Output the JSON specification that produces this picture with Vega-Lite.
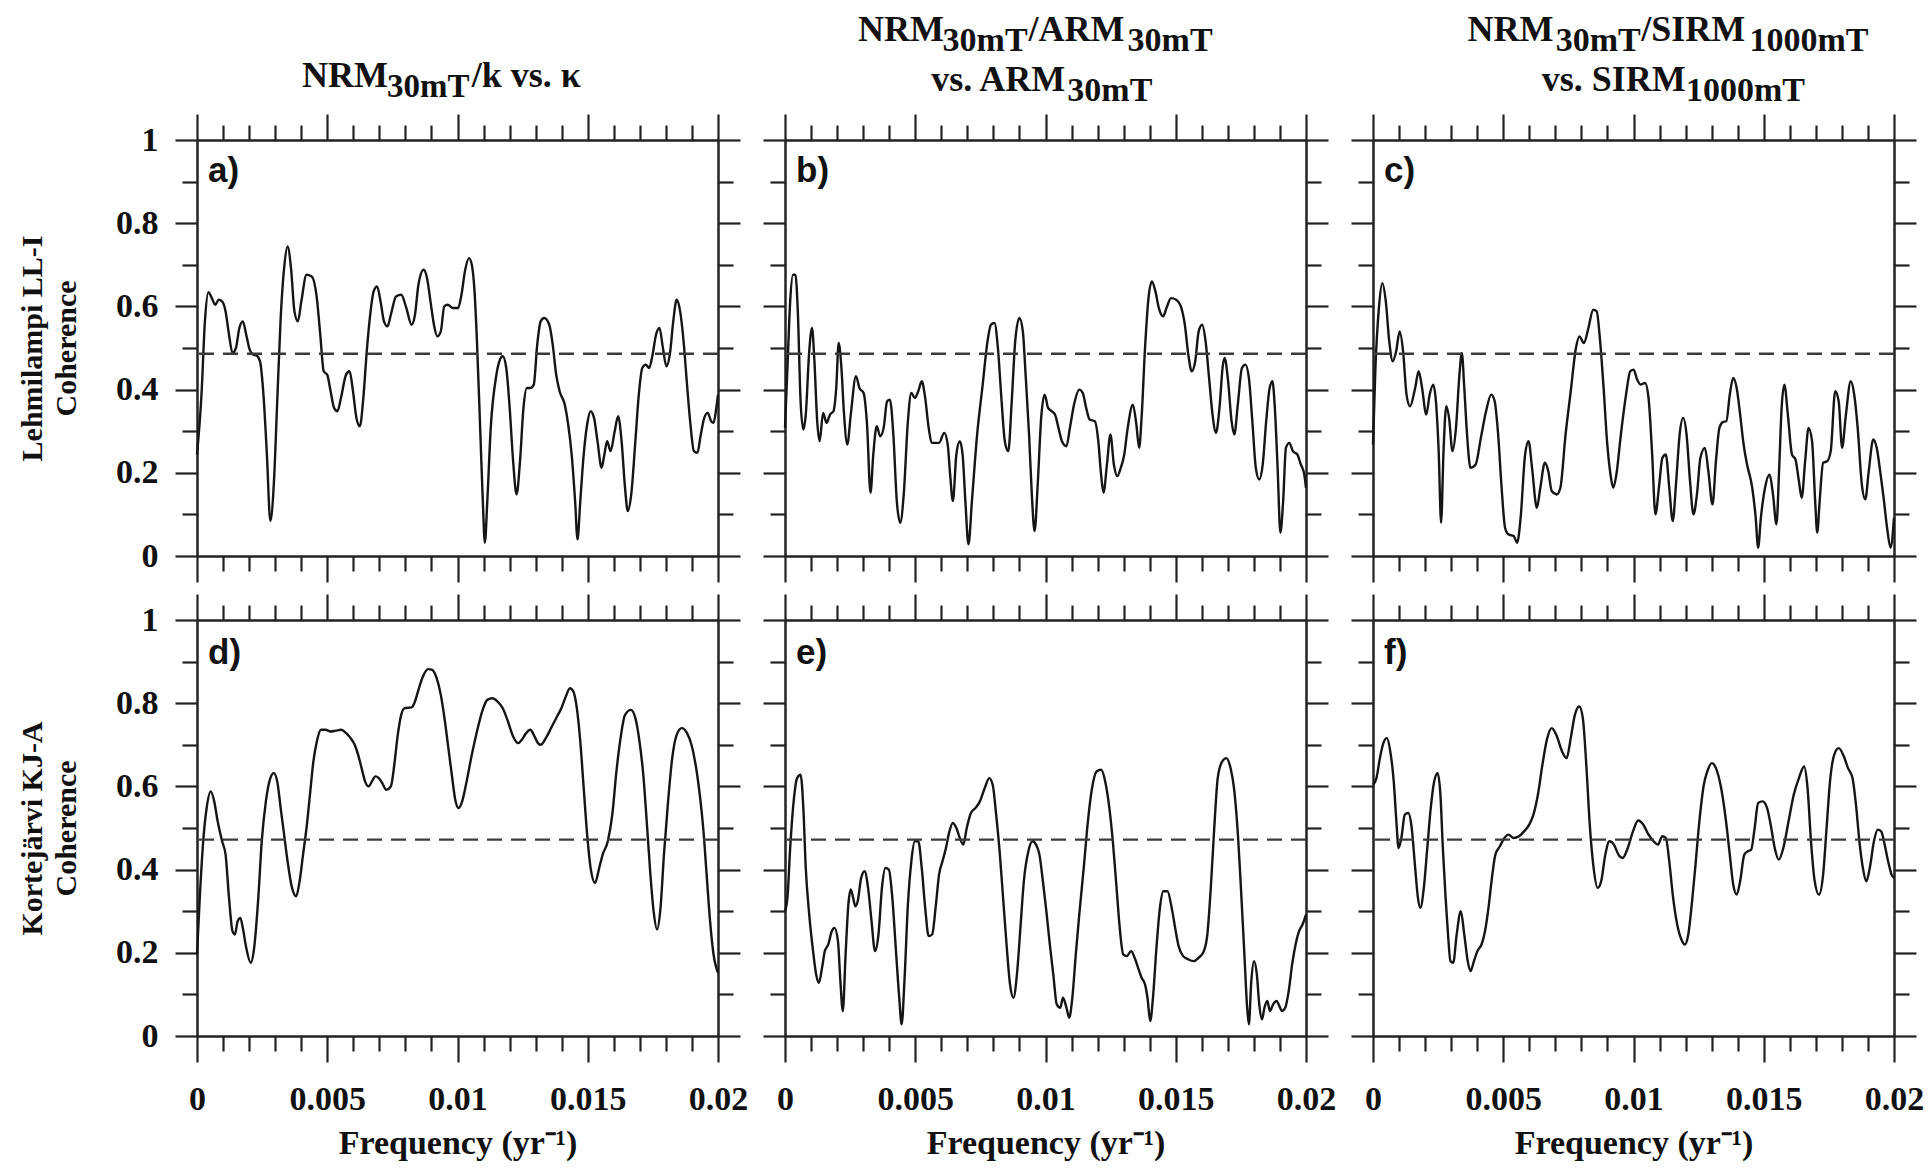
{
"$schema": "https://vega.github.io/schema/vega-lite/v6.json",
"padding": {"left": 17, "top": 11, "right": 5, "bottom": 5},
"background": "white",
"config": {
  "view": {"stroke": null},
  "font": "Liberation Serif",
  "axis": {"domainColor": "#222", "domainWidth": 2.5, "tickColor": "#222", "tickWidth": 2.2, "labelFont": "Liberation Serif", "labelFontWeight": "bold", "labelFontSize": 34, "labelColor": "#111", "titleFont": "Liberation Serif", "titleFontWeight": "bold", "titleFontSize": 32, "titleColor": "#111", "grid": false, "labelFlush": false, "labelOverlap": false}
},
"datasets": {
"lev": [{"p":"a","c":0.486},{"p":"b","c":0.486},{"p":"c","c":0.486},{"p":"d","c":0.472},{"p":"e","c":0.472},{"p":"f","c":0.472}],
"lab": [{"p":"a","t":"a)"},{"p":"b","t":"b)"},{"p":"c","t":"c)"},{"p":"d","t":"d)"},{"p":"e","t":"e)"},{"p":"f","t":"f)"}],
"a": [{"f":0,"c":0.244},{"f":0.000172,"c":0.388},{"f":0.000304,"c":0.564},{"f":0.000436,"c":0.634},{"f":0.000568,"c":0.62},{"f":0.000701,"c":0.604},{"f":0.000833,"c":0.616},{"f":0.000965,"c":0.612},{"f":0.001097,"c":0.588},{"f":0.001229,"c":0.532},{"f":0.001362,"c":0.488},{"f":0.001494,"c":0.5},{"f":0.001626,"c":0.548},{"f":0.001758,"c":0.564},{"f":0.00189,"c":0.532},{"f":0.002022,"c":0.496},{"f":0.002155,"c":0.484},{"f":0.002287,"c":0.482},{"f":0.002419,"c":0.468},{"f":0.002551,"c":0.388},{"f":0.002683,"c":0.244},{"f":0.002816,"c":0.084},{"f":0.002948,"c":0.172},{"f":0.00308,"c":0.372},{"f":0.003212,"c":0.572},{"f":0.003344,"c":0.692},{"f":0.003477,"c":0.744},{"f":0.003609,"c":0.692},{"f":0.003741,"c":0.588},{"f":0.003873,"c":0.564},{"f":0.004005,"c":0.612},{"f":0.004204,"c":0.676},{"f":0.004402,"c":0.672},{"f":0.0046,"c":0.62},{"f":0.004732,"c":0.532},{"f":0.004865,"c":0.444},{"f":0.004997,"c":0.436},{"f":0.005129,"c":0.396},{"f":0.005261,"c":0.356},{"f":0.005393,"c":0.348},{"f":0.005526,"c":0.38},{"f":0.005724,"c":0.436},{"f":0.005856,"c":0.444},{"f":0.005988,"c":0.396},{"f":0.00612,"c":0.332},{"f":0.006253,"c":0.312},{"f":0.006385,"c":0.38},{"f":0.006517,"c":0.492},{"f":0.006649,"c":0.58},{"f":0.006781,"c":0.636},{"f":0.006914,"c":0.648},{"f":0.007046,"c":0.612},{"f":0.007178,"c":0.564},{"f":0.00731,"c":0.552},{"f":0.007442,"c":0.58},{"f":0.007641,"c":0.624},{"f":0.007839,"c":0.628},{"f":0.008037,"c":0.596},{"f":0.008235,"c":0.556},{"f":0.008368,"c":0.58},{"f":0.0085,"c":0.652},{"f":0.008698,"c":0.688},{"f":0.00883,"c":0.668},{"f":0.008963,"c":0.612},{"f":0.009095,"c":0.556},{"f":0.009227,"c":0.528},{"f":0.009359,"c":0.54},{"f":0.009491,"c":0.6},{"f":0.009624,"c":0.604},{"f":0.009822,"c":0.596},{"f":0.01002,"c":0.596},{"f":0.010152,"c":0.628},{"f":0.010284,"c":0.684},{"f":0.010443,"c":0.716},{"f":0.010549,"c":0.7},{"f":0.010654,"c":0.636},{"f":0.010747,"c":0.516},{"f":0.010879,"c":0.292},{"f":0.010972,"c":0.132},{"f":0.011051,"c":0.032},{"f":0.011144,"c":0.132},{"f":0.011276,"c":0.308},{"f":0.011474,"c":0.428},{"f":0.011606,"c":0.468},{"f":0.011738,"c":0.48},{"f":0.011871,"c":0.452},{"f":0.012003,"c":0.356},{"f":0.012135,"c":0.228},{"f":0.012267,"c":0.148},{"f":0.0124,"c":0.228},{"f":0.012532,"c":0.356},{"f":0.012664,"c":0.404},{"f":0.012796,"c":0.404},{"f":0.012928,"c":0.412},{"f":0.01306,"c":0.508},{"f":0.013193,"c":0.564},{"f":0.013325,"c":0.572},{"f":0.013523,"c":0.556},{"f":0.013655,"c":0.508},{"f":0.013788,"c":0.436},{"f":0.01392,"c":0.396},{"f":0.014118,"c":0.364},{"f":0.01425,"c":0.316},{"f":0.014382,"c":0.244},{"f":0.014515,"c":0.132},{"f":0.014607,"c":0.04},{"f":0.014713,"c":0.132},{"f":0.014845,"c":0.244},{"f":0.014977,"c":0.316},{"f":0.015109,"c":0.348},{"f":0.015241,"c":0.332},{"f":0.015374,"c":0.276},{"f":0.015532,"c":0.212},{"f":0.015638,"c":0.244},{"f":0.015744,"c":0.276},{"f":0.015876,"c":0.252},{"f":0.016035,"c":0.3},{"f":0.016167,"c":0.336},{"f":0.016299,"c":0.276},{"f":0.016431,"c":0.164},{"f":0.016537,"c":0.108},{"f":0.016669,"c":0.148},{"f":0.016828,"c":0.276},{"f":0.01696,"c":0.388},{"f":0.017093,"c":0.452},{"f":0.017225,"c":0.46},{"f":0.017357,"c":0.452},{"f":0.017489,"c":0.484},{"f":0.017621,"c":0.532},{"f":0.017754,"c":0.548},{"f":0.017886,"c":0.5},{"f":0.018018,"c":0.456},{"f":0.01815,"c":0.484},{"f":0.018282,"c":0.564},{"f":0.018415,"c":0.616},{"f":0.018547,"c":0.588},{"f":0.018679,"c":0.516},{"f":0.018811,"c":0.412},{"f":0.018943,"c":0.316},{"f":0.019076,"c":0.252},{"f":0.019208,"c":0.248},{"f":0.01934,"c":0.292},{"f":0.019472,"c":0.332},{"f":0.019604,"c":0.344},{"f":0.019737,"c":0.324},{"f":0.019829,"c":0.32},{"f":0.019935,"c":0.356},{"f":0.02,"c":0.388}],
"b": [{"f":0,"c":0.308},{"f":0.000093,"c":0.452},{"f":0.000199,"c":0.612},{"f":0.000306,"c":0.676},{"f":0.000399,"c":0.676},{"f":0.000492,"c":0.588},{"f":0.000598,"c":0.372},{"f":0.000704,"c":0.304},{"f":0.000797,"c":0.34},{"f":0.00093,"c":0.492},{"f":0.001037,"c":0.548},{"f":0.00113,"c":0.468},{"f":0.001236,"c":0.324},{"f":0.001329,"c":0.276},{"f":0.001462,"c":0.344},{"f":0.001595,"c":0.32},{"f":0.001728,"c":0.34},{"f":0.00186,"c":0.348},{"f":0.001967,"c":0.404},{"f":0.00206,"c":0.512},{"f":0.002166,"c":0.452},{"f":0.002259,"c":0.348},{"f":0.002392,"c":0.268},{"f":0.002525,"c":0.34},{"f":0.002724,"c":0.432},{"f":0.002857,"c":0.404},{"f":0.003017,"c":0.392},{"f":0.003149,"c":0.316},{"f":0.003282,"c":0.152},{"f":0.003389,"c":0.244},{"f":0.003522,"c":0.312},{"f":0.003654,"c":0.288},{"f":0.003787,"c":0.308},{"f":0.00392,"c":0.372},{"f":0.004027,"c":0.376},{"f":0.004159,"c":0.292},{"f":0.004292,"c":0.132},{"f":0.004425,"c":0.08},{"f":0.004558,"c":0.148},{"f":0.004718,"c":0.324},{"f":0.00485,"c":0.392},{"f":0.004983,"c":0.38},{"f":0.005116,"c":0.396},{"f":0.005249,"c":0.42},{"f":0.005382,"c":0.38},{"f":0.005515,"c":0.308},{"f":0.005648,"c":0.272},{"f":0.005914,"c":0.272},{"f":0.006113,"c":0.296},{"f":0.006246,"c":0.268},{"f":0.006339,"c":0.196},{"f":0.006445,"c":0.132},{"f":0.006578,"c":0.244},{"f":0.006711,"c":0.276},{"f":0.006817,"c":0.244},{"f":0.006924,"c":0.132},{"f":0.007043,"c":0.028},{"f":0.007176,"c":0.132},{"f":0.007375,"c":0.292},{"f":0.007575,"c":0.404},{"f":0.007774,"c":0.516},{"f":0.007907,"c":0.556},{"f":0.00804,"c":0.56},{"f":0.008173,"c":0.5},{"f":0.008306,"c":0.38},{"f":0.008439,"c":0.276},{"f":0.008571,"c":0.252},{"f":0.008704,"c":0.372},{"f":0.008837,"c":0.516},{"f":0.008997,"c":0.572},{"f":0.00913,"c":0.54},{"f":0.009236,"c":0.436},{"f":0.009369,"c":0.292},{"f":0.009475,"c":0.148},{"f":0.009581,"c":0.06},{"f":0.009701,"c":0.172},{"f":0.009834,"c":0.332},{"f":0.009967,"c":0.388},{"f":0.0101,"c":0.356},{"f":0.010233,"c":0.348},{"f":0.010365,"c":0.34},{"f":0.010498,"c":0.308},{"f":0.010631,"c":0.276},{"f":0.010804,"c":0.264},{"f":0.010937,"c":0.308},{"f":0.011096,"c":0.364},{"f":0.011296,"c":0.4},{"f":0.011429,"c":0.392},{"f":0.011561,"c":0.356},{"f":0.011694,"c":0.328},{"f":0.011894,"c":0.324},{"f":0.012027,"c":0.276},{"f":0.012133,"c":0.196},{"f":0.012226,"c":0.152},{"f":0.012359,"c":0.22},{"f":0.012492,"c":0.292},{"f":0.012625,"c":0.22},{"f":0.012757,"c":0.192},{"f":0.01289,"c":0.212},{"f":0.013023,"c":0.244},{"f":0.013156,"c":0.308},{"f":0.013355,"c":0.364},{"f":0.013488,"c":0.316},{"f":0.013595,"c":0.26},{"f":0.013688,"c":0.332},{"f":0.013821,"c":0.5},{"f":0.013953,"c":0.62},{"f":0.014086,"c":0.66},{"f":0.014219,"c":0.636},{"f":0.014352,"c":0.596},{"f":0.014512,"c":0.576},{"f":0.014644,"c":0.596},{"f":0.014817,"c":0.62},{"f":0.015017,"c":0.616},{"f":0.015216,"c":0.596},{"f":0.015349,"c":0.556},{"f":0.015482,"c":0.484},{"f":0.015615,"c":0.444},{"f":0.015747,"c":0.468},{"f":0.01588,"c":0.54},{"f":0.016013,"c":0.556},{"f":0.016146,"c":0.516},{"f":0.016279,"c":0.428},{"f":0.016412,"c":0.34},{"f":0.016545,"c":0.296},{"f":0.016678,"c":0.356},{"f":0.016811,"c":0.46},{"f":0.016877,"c":0.476},{"f":0.01701,"c":0.42},{"f":0.017143,"c":0.324},{"f":0.017249,"c":0.292},{"f":0.017382,"c":0.364},{"f":0.017541,"c":0.452},{"f":0.017674,"c":0.46},{"f":0.017807,"c":0.428},{"f":0.01794,"c":0.324},{"f":0.018073,"c":0.212},{"f":0.018206,"c":0.184},{"f":0.018339,"c":0.22},{"f":0.018472,"c":0.324},{"f":0.018605,"c":0.404},{"f":0.018711,"c":0.42},{"f":0.018804,"c":0.356},{"f":0.01891,"c":0.212},{"f":0.019017,"c":0.056},{"f":0.019123,"c":0.132},{"f":0.019229,"c":0.26},{"f":0.019362,"c":0.272},{"f":0.019495,"c":0.252},{"f":0.019668,"c":0.244},{"f":0.019801,"c":0.22},{"f":0.019934,"c":0.196},{"f":0.02,"c":0.164}],
"c": [{"f":0,"c":0.268},{"f":0.000093,"c":0.452},{"f":0.000226,"c":0.596},{"f":0.000358,"c":0.656},{"f":0.000491,"c":0.612},{"f":0.000624,"c":0.516},{"f":0.000756,"c":0.468},{"f":0.000889,"c":0.492},{"f":0.001022,"c":0.54},{"f":0.001155,"c":0.492},{"f":0.001287,"c":0.388},{"f":0.00142,"c":0.36},{"f":0.001619,"c":0.404},{"f":0.001752,"c":0.444},{"f":0.001884,"c":0.404},{"f":0.002044,"c":0.34},{"f":0.002176,"c":0.388},{"f":0.002309,"c":0.412},{"f":0.002415,"c":0.372},{"f":0.002521,"c":0.252},{"f":0.002614,"c":0.08},{"f":0.002707,"c":0.252},{"f":0.002813,"c":0.36},{"f":0.00292,"c":0.332},{"f":0.003052,"c":0.252},{"f":0.003185,"c":0.308},{"f":0.003318,"c":0.436},{"f":0.003411,"c":0.488},{"f":0.003504,"c":0.404},{"f":0.00361,"c":0.292},{"f":0.003742,"c":0.212},{"f":0.003941,"c":0.22},{"f":0.004141,"c":0.284},{"f":0.00434,"c":0.348},{"f":0.004539,"c":0.388},{"f":0.004671,"c":0.372},{"f":0.004804,"c":0.292},{"f":0.004937,"c":0.164},{"f":0.00507,"c":0.068},{"f":0.005202,"c":0.052},{"f":0.005401,"c":0.048},{"f":0.005534,"c":0.032},{"f":0.005667,"c":0.092},{"f":0.005839,"c":0.244},{"f":0.005972,"c":0.276},{"f":0.006105,"c":0.212},{"f":0.00629,"c":0.116},{"f":0.006423,"c":0.164},{"f":0.006596,"c":0.224},{"f":0.006728,"c":0.204},{"f":0.006861,"c":0.156},{"f":0.00706,"c":0.148},{"f":0.007193,"c":0.164},{"f":0.007392,"c":0.292},{"f":0.007591,"c":0.396},{"f":0.00779,"c":0.5},{"f":0.007923,"c":0.528},{"f":0.008095,"c":0.512},{"f":0.008255,"c":0.544},{"f":0.008454,"c":0.592},{"f":0.008586,"c":0.588},{"f":0.008719,"c":0.516},{"f":0.008852,"c":0.404},{"f":0.008984,"c":0.276},{"f":0.009117,"c":0.196},{"f":0.009223,"c":0.164},{"f":0.009343,"c":0.196},{"f":0.009515,"c":0.292},{"f":0.009714,"c":0.388},{"f":0.009874,"c":0.444},{"f":0.010006,"c":0.448},{"f":0.010139,"c":0.424},{"f":0.010272,"c":0.412},{"f":0.010444,"c":0.416},{"f":0.010577,"c":0.38},{"f":0.01071,"c":0.252},{"f":0.010842,"c":0.1},{"f":0.010975,"c":0.164},{"f":0.011108,"c":0.236},{"f":0.011241,"c":0.244},{"f":0.011373,"c":0.164},{"f":0.011506,"c":0.084},{"f":0.011639,"c":0.18},{"f":0.011771,"c":0.292},{"f":0.011904,"c":0.332},{"f":0.012037,"c":0.292},{"f":0.01217,"c":0.18},{"f":0.012302,"c":0.1},{"f":0.012435,"c":0.148},{"f":0.012568,"c":0.236},{"f":0.01274,"c":0.26},{"f":0.012873,"c":0.204},{"f":0.013032,"c":0.124},{"f":0.013165,"c":0.228},{"f":0.013298,"c":0.308},{"f":0.01343,"c":0.322},{"f":0.013563,"c":0.324},{"f":0.013696,"c":0.388},{"f":0.013828,"c":0.428},{"f":0.013961,"c":0.404},{"f":0.014094,"c":0.34},{"f":0.014227,"c":0.268},{"f":0.014359,"c":0.22},{"f":0.014558,"c":0.164},{"f":0.014691,"c":0.092},{"f":0.014784,"c":0.02},{"f":0.01489,"c":0.092},{"f":0.015049,"c":0.164},{"f":0.015222,"c":0.196},{"f":0.015355,"c":0.148},{"f":0.015487,"c":0.076},{"f":0.015593,"c":0.212},{"f":0.015686,"c":0.356},{"f":0.015792,"c":0.412},{"f":0.015925,"c":0.34},{"f":0.016084,"c":0.244},{"f":0.016217,"c":0.232},{"f":0.01635,"c":0.18},{"f":0.016456,"c":0.14},{"f":0.016589,"c":0.228},{"f":0.016721,"c":0.308},{"f":0.016854,"c":0.276},{"f":0.016974,"c":0.132},{"f":0.017053,"c":0.056},{"f":0.017146,"c":0.132},{"f":0.017279,"c":0.224},{"f":0.017438,"c":0.228},{"f":0.017571,"c":0.252},{"f":0.017743,"c":0.396},{"f":0.017876,"c":0.372},{"f":0.018009,"c":0.26},{"f":0.018141,"c":0.332},{"f":0.018341,"c":0.42},{"f":0.018473,"c":0.388},{"f":0.018606,"c":0.308},{"f":0.018765,"c":0.172},{"f":0.018898,"c":0.136},{"f":0.019031,"c":0.204},{"f":0.019203,"c":0.28},{"f":0.019336,"c":0.26},{"f":0.019469,"c":0.204},{"f":0.019601,"c":0.14},{"f":0.019734,"c":0.068},{"f":0.019867,"c":0.02},{"f":0.02,"c":0.092}],
"d": [{"f":0,"c":0.196},{"f":0.000106,"c":0.332},{"f":0.000238,"c":0.468},{"f":0.00037,"c":0.548},{"f":0.000529,"c":0.588},{"f":0.000661,"c":0.564},{"f":0.000793,"c":0.516},{"f":0.000965,"c":0.468},{"f":0.001097,"c":0.436},{"f":0.001229,"c":0.332},{"f":0.001362,"c":0.252},{"f":0.001454,"c":0.244},{"f":0.00156,"c":0.276},{"f":0.001666,"c":0.284},{"f":0.001758,"c":0.26},{"f":0.00189,"c":0.212},{"f":0.002062,"c":0.176},{"f":0.002194,"c":0.212},{"f":0.002353,"c":0.332},{"f":0.002485,"c":0.468},{"f":0.002644,"c":0.564},{"f":0.002816,"c":0.62},{"f":0.002948,"c":0.632},{"f":0.00308,"c":0.612},{"f":0.003212,"c":0.548},{"f":0.003344,"c":0.484},{"f":0.003477,"c":0.42},{"f":0.003648,"c":0.356},{"f":0.003807,"c":0.336},{"f":0.003939,"c":0.372},{"f":0.004071,"c":0.436},{"f":0.004204,"c":0.5},{"f":0.004336,"c":0.58},{"f":0.004468,"c":0.66},{"f":0.0046,"c":0.708},{"f":0.004759,"c":0.736},{"f":0.004931,"c":0.736},{"f":0.005129,"c":0.732},{"f":0.005327,"c":0.734},{"f":0.005526,"c":0.736},{"f":0.005724,"c":0.728},{"f":0.005896,"c":0.716},{"f":0.006054,"c":0.7},{"f":0.006186,"c":0.676},{"f":0.006319,"c":0.644},{"f":0.006451,"c":0.612},{"f":0.006583,"c":0.6},{"f":0.006715,"c":0.612},{"f":0.006847,"c":0.624},{"f":0.00698,"c":0.62},{"f":0.007112,"c":0.608},{"f":0.00727,"c":0.592},{"f":0.007442,"c":0.6},{"f":0.007574,"c":0.652},{"f":0.007707,"c":0.724},{"f":0.007839,"c":0.772},{"f":0.007971,"c":0.788},{"f":0.008235,"c":0.79},{"f":0.008368,"c":0.804},{"f":0.0085,"c":0.832},{"f":0.008672,"c":0.864},{"f":0.00887,"c":0.882},{"f":0.009029,"c":0.88},{"f":0.0092,"c":0.86},{"f":0.009359,"c":0.82},{"f":0.009518,"c":0.756},{"f":0.00965,"c":0.692},{"f":0.009782,"c":0.628},{"f":0.009914,"c":0.568},{"f":0.010046,"c":0.548},{"f":0.010179,"c":0.564},{"f":0.01035,"c":0.612},{"f":0.010549,"c":0.676},{"f":0.010747,"c":0.732},{"f":0.010945,"c":0.78},{"f":0.011144,"c":0.808},{"f":0.011342,"c":0.812},{"f":0.01154,"c":0.804},{"f":0.011738,"c":0.788},{"f":0.011937,"c":0.756},{"f":0.012135,"c":0.72},{"f":0.012333,"c":0.704},{"f":0.012466,"c":0.712},{"f":0.012637,"c":0.728},{"f":0.012796,"c":0.736},{"f":0.012928,"c":0.724},{"f":0.013087,"c":0.704},{"f":0.013193,"c":0.7},{"f":0.013391,"c":0.716},{"f":0.013589,"c":0.74},{"f":0.013787,"c":0.764},{"f":0.013986,"c":0.788},{"f":0.014158,"c":0.816},{"f":0.014316,"c":0.836},{"f":0.014448,"c":0.828},{"f":0.014581,"c":0.788},{"f":0.014713,"c":0.708},{"f":0.014845,"c":0.596},{"f":0.014977,"c":0.484},{"f":0.015109,"c":0.404},{"f":0.015281,"c":0.368},{"f":0.01544,"c":0.404},{"f":0.015572,"c":0.436},{"f":0.01577,"c":0.468},{"f":0.015942,"c":0.532},{"f":0.016101,"c":0.636},{"f":0.016259,"c":0.716},{"f":0.016431,"c":0.772},{"f":0.016656,"c":0.784},{"f":0.016828,"c":0.764},{"f":0.016986,"c":0.708},{"f":0.017132,"c":0.628},{"f":0.017264,"c":0.516},{"f":0.017396,"c":0.396},{"f":0.017528,"c":0.3},{"f":0.017661,"c":0.256},{"f":0.017793,"c":0.308},{"f":0.017925,"c":0.436},{"f":0.018084,"c":0.564},{"f":0.018242,"c":0.668},{"f":0.018414,"c":0.724},{"f":0.018612,"c":0.74},{"f":0.018811,"c":0.728},{"f":0.018982,"c":0.7},{"f":0.019141,"c":0.652},{"f":0.0193,"c":0.58},{"f":0.019432,"c":0.5},{"f":0.019564,"c":0.388},{"f":0.019696,"c":0.276},{"f":0.019829,"c":0.196},{"f":0.019934,"c":0.164},{"f":0.02,"c":0.152}],
"e": [{"f":0,"c":0.3},{"f":0.000093,"c":0.332},{"f":0.000199,"c":0.452},{"f":0.000332,"c":0.564},{"f":0.000465,"c":0.62},{"f":0.000598,"c":0.628},{"f":0.000704,"c":0.548},{"f":0.000797,"c":0.404},{"f":0.00093,"c":0.292},{"f":0.001063,"c":0.212},{"f":0.001196,"c":0.148},{"f":0.001302,"c":0.128},{"f":0.001422,"c":0.164},{"f":0.001528,"c":0.204},{"f":0.001661,"c":0.22},{"f":0.001794,"c":0.252},{"f":0.0019,"c":0.26},{"f":0.002033,"c":0.228},{"f":0.002126,"c":0.132},{"f":0.002219,"c":0.06},{"f":0.002326,"c":0.196},{"f":0.002432,"c":0.316},{"f":0.002525,"c":0.352},{"f":0.002618,"c":0.332},{"f":0.002698,"c":0.312},{"f":0.002791,"c":0.324},{"f":0.002924,"c":0.38},{"f":0.003056,"c":0.396},{"f":0.003189,"c":0.356},{"f":0.003322,"c":0.276},{"f":0.003455,"c":0.204},{"f":0.003588,"c":0.244},{"f":0.003721,"c":0.356},{"f":0.003854,"c":0.404},{"f":0.003987,"c":0.4},{"f":0.00412,"c":0.332},{"f":0.004252,"c":0.212},{"f":0.004385,"c":0.092},{"f":0.004478,"c":0.028},{"f":0.004585,"c":0.132},{"f":0.004718,"c":0.316},{"f":0.00485,"c":0.42},{"f":0.004983,"c":0.468},{"f":0.005116,"c":0.468},{"f":0.005249,"c":0.404},{"f":0.005382,"c":0.308},{"f":0.005515,"c":0.24},{"f":0.005648,"c":0.244},{"f":0.005781,"c":0.308},{"f":0.005914,"c":0.388},{"f":0.006046,"c":0.42},{"f":0.006179,"c":0.452},{"f":0.006312,"c":0.492},{"f":0.006445,"c":0.512},{"f":0.006578,"c":0.5},{"f":0.006711,"c":0.476},{"f":0.006844,"c":0.46},{"f":0.006977,"c":0.5},{"f":0.007136,"c":0.536},{"f":0.007309,"c":0.548},{"f":0.007482,"c":0.564},{"f":0.007668,"c":0.596},{"f":0.007841,"c":0.62},{"f":0.007973,"c":0.604},{"f":0.008106,"c":0.532},{"f":0.008239,"c":0.444},{"f":0.008372,"c":0.332},{"f":0.008505,"c":0.22},{"f":0.008638,"c":0.124},{"f":0.008771,"c":0.092},{"f":0.008904,"c":0.148},{"f":0.009037,"c":0.26},{"f":0.009169,"c":0.372},{"f":0.009342,"c":0.444},{"f":0.009502,"c":0.468},{"f":0.009635,"c":0.46},{"f":0.009767,"c":0.436},{"f":0.0099,"c":0.372},{"f":0.010033,"c":0.3},{"f":0.010166,"c":0.22},{"f":0.010299,"c":0.148},{"f":0.010432,"c":0.076},{"f":0.010565,"c":0.068},{"f":0.010671,"c":0.092},{"f":0.010804,"c":0.068},{"f":0.01091,"c":0.044},{"f":0.01103,"c":0.092},{"f":0.011163,"c":0.196},{"f":0.011296,"c":0.292},{"f":0.011468,"c":0.404},{"f":0.011628,"c":0.516},{"f":0.011787,"c":0.596},{"f":0.01196,"c":0.636},{"f":0.012133,"c":0.64},{"f":0.012292,"c":0.612},{"f":0.012452,"c":0.548},{"f":0.012585,"c":0.468},{"f":0.012718,"c":0.364},{"f":0.01285,"c":0.26},{"f":0.012983,"c":0.196},{"f":0.013116,"c":0.192},{"f":0.013289,"c":0.204},{"f":0.013422,"c":0.188},{"f":0.013555,"c":0.164},{"f":0.013688,"c":0.14},{"f":0.013821,"c":0.124},{"f":0.013914,"c":0.092},{"f":0.01402,"c":0.036},{"f":0.014126,"c":0.092},{"f":0.014259,"c":0.212},{"f":0.014392,"c":0.308},{"f":0.014525,"c":0.348},{"f":0.014684,"c":0.348},{"f":0.014844,"c":0.308},{"f":0.014977,"c":0.26},{"f":0.01511,"c":0.216},{"f":0.015282,"c":0.192},{"f":0.015482,"c":0.184},{"f":0.015681,"c":0.18},{"f":0.01588,"c":0.188},{"f":0.01608,"c":0.204},{"f":0.016213,"c":0.244},{"f":0.016345,"c":0.356},{"f":0.016478,"c":0.5},{"f":0.016611,"c":0.62},{"f":0.016784,"c":0.66},{"f":0.016943,"c":0.668},{"f":0.017103,"c":0.644},{"f":0.017236,"c":0.596},{"f":0.017369,"c":0.5},{"f":0.017502,"c":0.356},{"f":0.017635,"c":0.196},{"f":0.017741,"c":0.068},{"f":0.017807,"c":0.028},{"f":0.0179,"c":0.132},{"f":0.018006,"c":0.18},{"f":0.018113,"c":0.148},{"f":0.018206,"c":0.076},{"f":0.018312,"c":0.04},{"f":0.018405,"c":0.068},{"f":0.018512,"c":0.084},{"f":0.018618,"c":0.06},{"f":0.018737,"c":0.076},{"f":0.01887,"c":0.084},{"f":0.018977,"c":0.072},{"f":0.01907,"c":0.06},{"f":0.019203,"c":0.068},{"f":0.019336,"c":0.108},{"f":0.019468,"c":0.172},{"f":0.019601,"c":0.22},{"f":0.019734,"c":0.252},{"f":0.019867,"c":0.268},{"f":0.02,"c":0.292}],
"f": [{"f":0,"c":0.604},{"f":0.000133,"c":0.62},{"f":0.000265,"c":0.668},{"f":0.000398,"c":0.704},{"f":0.000531,"c":0.716},{"f":0.000664,"c":0.684},{"f":0.000796,"c":0.612},{"f":0.000889,"c":0.524},{"f":0.000982,"c":0.452},{"f":0.001088,"c":0.476},{"f":0.001221,"c":0.532},{"f":0.001354,"c":0.536},{"f":0.001486,"c":0.5},{"f":0.001619,"c":0.404},{"f":0.001725,"c":0.332},{"f":0.001818,"c":0.308},{"f":0.001951,"c":0.356},{"f":0.002084,"c":0.452},{"f":0.002216,"c":0.548},{"f":0.002349,"c":0.612},{"f":0.002482,"c":0.632},{"f":0.002588,"c":0.58},{"f":0.002681,"c":0.452},{"f":0.002787,"c":0.332},{"f":0.00288,"c":0.244},{"f":0.002973,"c":0.18},{"f":0.003079,"c":0.176},{"f":0.003212,"c":0.244},{"f":0.003371,"c":0.3},{"f":0.003504,"c":0.244},{"f":0.003636,"c":0.18},{"f":0.003742,"c":0.156},{"f":0.003875,"c":0.18},{"f":0.004008,"c":0.204},{"f":0.004167,"c":0.22},{"f":0.0043,"c":0.252},{"f":0.004433,"c":0.308},{"f":0.004565,"c":0.38},{"f":0.004698,"c":0.436},{"f":0.00487,"c":0.456},{"f":0.005043,"c":0.476},{"f":0.005202,"c":0.484},{"f":0.005401,"c":0.476},{"f":0.0056,"c":0.48},{"f":0.005799,"c":0.492},{"f":0.005998,"c":0.508},{"f":0.006158,"c":0.532},{"f":0.00633,"c":0.58},{"f":0.006503,"c":0.652},{"f":0.006689,"c":0.716},{"f":0.006861,"c":0.74},{"f":0.007034,"c":0.724},{"f":0.007259,"c":0.684},{"f":0.007432,"c":0.668},{"f":0.007591,"c":0.716},{"f":0.00775,"c":0.772},{"f":0.007923,"c":0.792},{"f":0.008055,"c":0.764},{"f":0.008188,"c":0.652},{"f":0.008321,"c":0.508},{"f":0.008454,"c":0.412},{"f":0.008626,"c":0.356},{"f":0.008759,"c":0.372},{"f":0.008918,"c":0.436},{"f":0.009077,"c":0.468},{"f":0.00925,"c":0.46},{"f":0.009422,"c":0.436},{"f":0.009582,"c":0.428},{"f":0.009781,"c":0.452},{"f":0.00998,"c":0.492},{"f":0.010179,"c":0.518},{"f":0.010378,"c":0.508},{"f":0.010577,"c":0.484},{"f":0.010776,"c":0.468},{"f":0.010935,"c":0.46},{"f":0.011108,"c":0.48},{"f":0.011241,"c":0.476},{"f":0.011373,"c":0.42},{"f":0.011506,"c":0.34},{"f":0.011678,"c":0.268},{"f":0.011838,"c":0.232},{"f":0.01197,"c":0.22},{"f":0.012103,"c":0.244},{"f":0.012236,"c":0.316},{"f":0.012369,"c":0.404},{"f":0.012528,"c":0.516},{"f":0.0127,"c":0.604},{"f":0.012833,"c":0.636},{"f":0.013006,"c":0.656},{"f":0.013165,"c":0.644},{"f":0.013364,"c":0.596},{"f":0.013536,"c":0.524},{"f":0.013696,"c":0.436},{"f":0.013828,"c":0.364},{"f":0.013961,"c":0.34},{"f":0.014094,"c":0.372},{"f":0.014253,"c":0.436},{"f":0.014386,"c":0.444},{"f":0.014518,"c":0.448},{"f":0.014651,"c":0.5},{"f":0.014784,"c":0.56},{"f":0.014956,"c":0.564},{"f":0.015129,"c":0.548},{"f":0.015288,"c":0.5},{"f":0.015421,"c":0.452},{"f":0.01558,"c":0.424},{"f":0.015752,"c":0.452},{"f":0.015952,"c":0.516},{"f":0.016151,"c":0.58},{"f":0.01635,"c":0.62},{"f":0.016549,"c":0.648},{"f":0.016682,"c":0.596},{"f":0.016814,"c":0.468},{"f":0.016947,"c":0.376},{"f":0.01712,"c":0.34},{"f":0.017279,"c":0.388},{"f":0.017412,"c":0.5},{"f":0.017544,"c":0.612},{"f":0.017704,"c":0.676},{"f":0.017876,"c":0.692},{"f":0.018049,"c":0.676},{"f":0.018234,"c":0.644},{"f":0.018407,"c":0.62},{"f":0.01854,"c":0.556},{"f":0.018672,"c":0.468},{"f":0.018805,"c":0.404},{"f":0.018938,"c":0.372},{"f":0.019071,"c":0.404},{"f":0.01923,"c":0.468},{"f":0.019376,"c":0.496},{"f":0.019508,"c":0.492},{"f":0.019641,"c":0.46},{"f":0.019774,"c":0.42},{"f":0.019907,"c":0.388},{"f":0.02,"c":0.38}]
},
"columns": 3,
"spacing": {"row": 64, "column": 67},
"bounds": "flush",
"concat": [
{"width": 521, "height": 416,
 "layer": [
  {"data": {"name": "a"}, "mark": {"type": "line", "color": "#151515", "strokeWidth": 2.4, "interpolate": "monotone"},
   "encoding": {
    "x": {"field": "f", "type": "quantitative", "scale": {"domain": [0, 0.02], "nice": false, "zero": false},
          "axis": {"orient": "bottom", "values": [0,0.001,0.002,0.003,0.004,0.005,0.006,0.007,0.008,0.009,0.01,0.011,0.012,0.013,0.014,0.015,0.016,0.017,0.018,0.019,0.02], "tickSize": {"condition": {"test": "abs(datum.value*200-round(datum.value*200))<0.001", "value": 26}, "value": 15}, "labels": false, "title": null}},
    "y": {"field": "c", "type": "quantitative", "scale": {"domain": [0, 1], "nice": false},
          "axis": {"orient": "left", "values": [0,0.1,0.2,0.3,0.4,0.5,0.6,0.7,0.8,0.9,1], "tickSize": {"condition": {"test": "round(datum.value*10)%2==0", "value": 22}, "value": 15}, "labelExpr": "round(datum.value*10)%2==0 ? format(datum.value,'~g') : ''", "labelPadding": 17, "title": ["Lehmilampi LL-I", "Coherence"], "titleFontSize": 30, "titleLineHeight": 34, "titlePadding": 34}}}},
  {"data": {"name": "a"}, "mark": {"type": "line", "opacity": 0},
   "encoding": {
    "x": {"field": "f", "type": "quantitative", "axis": {"orient": "top", "values": [0,0.001,0.002,0.003,0.004,0.005,0.006,0.007,0.008,0.009,0.01,0.011,0.012,0.013,0.014,0.015,0.016,0.017,0.018,0.019,0.02], "tickSize": {"condition": {"test": "abs(datum.value*200-round(datum.value*200))<0.001", "value": 26}, "value": 15}, "labels": false, "title": null}},
    "y": {"field": "c", "type": "quantitative", "axis": {"orient": "right", "values": [0,0.1,0.2,0.3,0.4,0.5,0.6,0.7,0.8,0.9,1], "tickSize": {"condition": {"test": "round(datum.value*10)%2==0", "value": 22}, "value": 15}, "labels": false, "title": null}}}},
  {"data": {"name": "lev"}, "transform": [{"filter": "datum.p=='a'"}], "mark": {"type": "rule", "color": "#3a3a3a", "strokeWidth": 2.4, "strokeDash": [15, 9]},
   "encoding": {"y": {"field": "c", "type": "quantitative", "axis": null}}},
  {"data": {"name": "lab"}, "transform": [{"filter": "datum.p=='a'"}], "mark": {"type": "text", "font": "Liberation Sans", "fontWeight": "bold", "fontSize": 35, "align": "left", "baseline": "alphabetic", "dx": 11, "color": "#111"},
   "encoding": {"x": {"datum": 0, "type": "quantitative", "axis": null}, "y": {"datum": 0.9, "type": "quantitative", "axis": null}, "text": {"field": "t"}}},
  {"data": {"values": [{"t": "NRM"}]}, "mark": {"type": "text", "fontWeight": "bold", "fontSize": 36, "align": "left", "baseline": "alphabetic", "color": "#111"},
   "encoding": {"x": {"datum": 0.004031, "type": "quantitative", "axis": null}, "y": {"datum": 1.1267, "type": "quantitative", "axis": null}, "text": {"field": "t"}}},
  {"data": {"values": [{"t": "30mT"}]}, "mark": {"type": "text", "fontWeight": "bold", "fontSize": 33, "align": "left", "baseline": "alphabetic", "color": "#111"},
   "encoding": {"x": {"datum": 0.007294, "type": "quantitative", "axis": null}, "y": {"datum": 1.1026, "type": "quantitative", "axis": null}, "text": {"field": "t"}}},
  {"data": {"values": [{"t": "/k vs. κ"}]}, "mark": {"type": "text", "fontWeight": "bold", "fontSize": 36, "align": "left", "baseline": "alphabetic", "color": "#111"},
   "encoding": {"x": {"datum": 0.01055, "type": "quantitative", "axis": null}, "y": {"datum": 1.1267, "type": "quantitative", "axis": null}, "text": {"field": "t"}}}
 ],
 "resolve": {"axis": {"x": "independent", "y": "independent"}}},
{"width": 521, "height": 416,
 "layer": [
  {"data": {"name": "b"}, "mark": {"type": "line", "color": "#151515", "strokeWidth": 2.4, "interpolate": "monotone"},
   "encoding": {
    "x": {"field": "f", "type": "quantitative", "scale": {"domain": [0, 0.02], "nice": false, "zero": false},
          "axis": {"orient": "bottom", "values": [0,0.001,0.002,0.003,0.004,0.005,0.006,0.007,0.008,0.009,0.01,0.011,0.012,0.013,0.014,0.015,0.016,0.017,0.018,0.019,0.02], "tickSize": {"condition": {"test": "abs(datum.value*200-round(datum.value*200))<0.001", "value": 26}, "value": 15}, "labels": false, "title": null}},
    "y": {"field": "c", "type": "quantitative", "scale": {"domain": [0, 1], "nice": false},
          "axis": {"orient": "left", "values": [0,0.1,0.2,0.3,0.4,0.5,0.6,0.7,0.8,0.9,1], "tickSize": {"condition": {"test": "round(datum.value*10)%2==0", "value": 22}, "value": 15}, "labels": false, "title": null}}}},
  {"data": {"name": "b"}, "mark": {"type": "line", "opacity": 0},
   "encoding": {
    "x": {"field": "f", "type": "quantitative", "axis": {"orient": "top", "values": [0,0.001,0.002,0.003,0.004,0.005,0.006,0.007,0.008,0.009,0.01,0.011,0.012,0.013,0.014,0.015,0.016,0.017,0.018,0.019,0.02], "tickSize": {"condition": {"test": "abs(datum.value*200-round(datum.value*200))<0.001", "value": 26}, "value": 15}, "labels": false, "title": null}},
    "y": {"field": "c", "type": "quantitative", "axis": {"orient": "right", "values": [0,0.1,0.2,0.3,0.4,0.5,0.6,0.7,0.8,0.9,1], "tickSize": {"condition": {"test": "round(datum.value*10)%2==0", "value": 22}, "value": 15}, "labels": false, "title": null}}}},
  {"data": {"name": "lev"}, "transform": [{"filter": "datum.p=='b'"}], "mark": {"type": "rule", "color": "#3a3a3a", "strokeWidth": 2.4, "strokeDash": [15, 9]},
   "encoding": {"y": {"field": "c", "type": "quantitative", "axis": null}}},
  {"data": {"name": "lab"}, "transform": [{"filter": "datum.p=='b'"}], "mark": {"type": "text", "font": "Liberation Sans", "fontWeight": "bold", "fontSize": 35, "align": "left", "baseline": "alphabetic", "dx": 11, "color": "#111"},
   "encoding": {"x": {"datum": 0, "type": "quantitative", "axis": null}, "y": {"datum": 0.9, "type": "quantitative", "axis": null}, "text": {"field": "t"}}},
  {"data": {"values": [{"t": "NRM"}]}, "mark": {"type": "text", "fontWeight": "bold", "fontSize": 36, "align": "left", "baseline": "alphabetic", "color": "#111"},
   "encoding": {"x": {"datum": 0.002798, "type": "quantitative", "axis": null}, "y": {"datum": 1.2387, "type": "quantitative", "axis": null}, "text": {"field": "t"}}},
  {"data": {"values": [{"t": "30mT"}]}, "mark": {"type": "text", "fontWeight": "bold", "fontSize": 34, "align": "left", "baseline": "alphabetic", "color": "#111"},
   "encoding": {"x": {"datum": 0.00605, "type": "quantitative", "axis": null}, "y": {"datum": 1.2147, "type": "quantitative", "axis": null}, "text": {"field": "t"}}},
  {"data": {"values": [{"t": "/ARM"}]}, "mark": {"type": "text", "fontWeight": "bold", "fontSize": 36, "align": "left", "baseline": "alphabetic", "color": "#111"},
   "encoding": {"x": {"datum": 0.00935, "type": "quantitative", "axis": null}, "y": {"datum": 1.2387, "type": "quantitative", "axis": null}, "text": {"field": "t"}}},
  {"data": {"values": [{"t": "30mT"}]}, "mark": {"type": "text", "fontWeight": "bold", "fontSize": 34, "align": "left", "baseline": "alphabetic", "color": "#111"},
   "encoding": {"x": {"datum": 0.01315, "type": "quantitative", "axis": null}, "y": {"datum": 1.2147, "type": "quantitative", "axis": null}, "text": {"field": "t"}}},
  {"data": {"values": [{"t": "vs. ARM"}]}, "mark": {"type": "text", "fontWeight": "bold", "fontSize": 36, "align": "left", "baseline": "alphabetic", "color": "#111"},
   "encoding": {"x": {"datum": 0.005616, "type": "quantitative", "axis": null}, "y": {"datum": 1.1185, "type": "quantitative", "axis": null}, "text": {"field": "t"}}},
  {"data": {"values": [{"t": "30mT"}]}, "mark": {"type": "text", "fontWeight": "bold", "fontSize": 34, "align": "left", "baseline": "alphabetic", "color": "#111"},
   "encoding": {"x": {"datum": 0.010837, "type": "quantitative", "axis": null}, "y": {"datum": 1.0945, "type": "quantitative", "axis": null}, "text": {"field": "t"}}}
 ],
 "resolve": {"axis": {"x": "independent", "y": "independent"}}},
{"width": 521, "height": 416,
 "layer": [
  {"data": {"name": "c"}, "mark": {"type": "line", "color": "#151515", "strokeWidth": 2.4, "interpolate": "monotone"},
   "encoding": {
    "x": {"field": "f", "type": "quantitative", "scale": {"domain": [0, 0.02], "nice": false, "zero": false},
          "axis": {"orient": "bottom", "values": [0,0.001,0.002,0.003,0.004,0.005,0.006,0.007,0.008,0.009,0.01,0.011,0.012,0.013,0.014,0.015,0.016,0.017,0.018,0.019,0.02], "tickSize": {"condition": {"test": "abs(datum.value*200-round(datum.value*200))<0.001", "value": 26}, "value": 15}, "labels": false, "title": null}},
    "y": {"field": "c", "type": "quantitative", "scale": {"domain": [0, 1], "nice": false},
          "axis": {"orient": "left", "values": [0,0.1,0.2,0.3,0.4,0.5,0.6,0.7,0.8,0.9,1], "tickSize": {"condition": {"test": "round(datum.value*10)%2==0", "value": 22}, "value": 15}, "labels": false, "title": null}}}},
  {"data": {"name": "c"}, "mark": {"type": "line", "opacity": 0},
   "encoding": {
    "x": {"field": "f", "type": "quantitative", "axis": {"orient": "top", "values": [0,0.001,0.002,0.003,0.004,0.005,0.006,0.007,0.008,0.009,0.01,0.011,0.012,0.013,0.014,0.015,0.016,0.017,0.018,0.019,0.02], "tickSize": {"condition": {"test": "abs(datum.value*200-round(datum.value*200))<0.001", "value": 26}, "value": 15}, "labels": false, "title": null}},
    "y": {"field": "c", "type": "quantitative", "axis": {"orient": "right", "values": [0,0.1,0.2,0.3,0.4,0.5,0.6,0.7,0.8,0.9,1], "tickSize": {"condition": {"test": "round(datum.value*10)%2==0", "value": 22}, "value": 15}, "labels": false, "title": null}}}},
  {"data": {"name": "lev"}, "transform": [{"filter": "datum.p=='c'"}], "mark": {"type": "rule", "color": "#3a3a3a", "strokeWidth": 2.4, "strokeDash": [15, 9]},
   "encoding": {"y": {"field": "c", "type": "quantitative", "axis": null}}},
  {"data": {"name": "lab"}, "transform": [{"filter": "datum.p=='c'"}], "mark": {"type": "text", "font": "Liberation Sans", "fontWeight": "bold", "fontSize": 35, "align": "left", "baseline": "alphabetic", "dx": 11, "color": "#111"},
   "encoding": {"x": {"datum": 0, "type": "quantitative", "axis": null}, "y": {"datum": 0.9, "type": "quantitative", "axis": null}, "text": {"field": "t"}}},
  {"data": {"values": [{"t": "NRM"}]}, "mark": {"type": "text", "fontWeight": "bold", "fontSize": 36, "align": "left", "baseline": "alphabetic", "color": "#111"},
   "encoding": {"x": {"datum": 0.003624, "type": "quantitative", "axis": null}, "y": {"datum": 1.2387, "type": "quantitative", "axis": null}, "text": {"field": "t"}}},
  {"data": {"values": [{"t": "30mT"}]}, "mark": {"type": "text", "fontWeight": "bold", "fontSize": 34, "align": "left", "baseline": "alphabetic", "color": "#111"},
   "encoding": {"x": {"datum": 0.007013, "type": "quantitative", "axis": null}, "y": {"datum": 1.2147, "type": "quantitative", "axis": null}, "text": {"field": "t"}}},
  {"data": {"values": [{"t": "/SIRM"}]}, "mark": {"type": "text", "fontWeight": "bold", "fontSize": 36, "align": "left", "baseline": "alphabetic", "color": "#111"},
   "encoding": {"x": {"datum": 0.0103, "type": "quantitative", "axis": null}, "y": {"datum": 1.2387, "type": "quantitative", "axis": null}, "text": {"field": "t"}}},
  {"data": {"values": [{"t": "1000mT"}]}, "mark": {"type": "text", "fontWeight": "bold", "fontSize": 34, "align": "left", "baseline": "alphabetic", "color": "#111"},
   "encoding": {"x": {"datum": 0.01445, "type": "quantitative", "axis": null}, "y": {"datum": 1.2147, "type": "quantitative", "axis": null}, "text": {"field": "t"}}},
  {"data": {"values": [{"t": "vs. SIRM"}]}, "mark": {"type": "text", "fontWeight": "bold", "fontSize": 36, "align": "left", "baseline": "alphabetic", "color": "#111"},
   "encoding": {"x": {"datum": 0.00648, "type": "quantitative", "axis": null}, "y": {"datum": 1.1185, "type": "quantitative", "axis": null}, "text": {"field": "t"}}},
  {"data": {"values": [{"t": "1000mT"}]}, "mark": {"type": "text", "fontWeight": "bold", "fontSize": 34, "align": "left", "baseline": "alphabetic", "color": "#111"},
   "encoding": {"x": {"datum": 0.012012, "type": "quantitative", "axis": null}, "y": {"datum": 1.0945, "type": "quantitative", "axis": null}, "text": {"field": "t"}}}
 ],
 "resolve": {"axis": {"x": "independent", "y": "independent"}}},
{"width": 521, "height": 416,
 "layer": [
  {"data": {"name": "d"}, "mark": {"type": "line", "color": "#151515", "strokeWidth": 2.4, "interpolate": "monotone"},
   "encoding": {
    "x": {"field": "f", "type": "quantitative", "scale": {"domain": [0, 0.02], "nice": false, "zero": false},
          "axis": {"orient": "bottom", "values": [0,0.001,0.002,0.003,0.004,0.005,0.006,0.007,0.008,0.009,0.01,0.011,0.012,0.013,0.014,0.015,0.016,0.017,0.018,0.019,0.02], "tickSize": {"condition": {"test": "abs(datum.value*200-round(datum.value*200))<0.001", "value": 26}, "value": 15}, "labelExpr": "abs(datum.value*200-round(datum.value*200))<0.001 ? format(datum.value,'~g') : ''", "labelPadding": 20, "title": "Frequency (yr⁻¹)", "titleFontSize": 34, "titlePadding": 10}},
    "y": {"field": "c", "type": "quantitative", "scale": {"domain": [0, 1], "nice": false},
          "axis": {"orient": "left", "values": [0,0.1,0.2,0.3,0.4,0.5,0.6,0.7,0.8,0.9,1], "tickSize": {"condition": {"test": "round(datum.value*10)%2==0", "value": 22}, "value": 15}, "labelExpr": "round(datum.value*10)%2==0 ? format(datum.value,'~g') : ''", "labelPadding": 17, "title": ["Kortejärvi KJ-A", "Coherence"], "titleFontSize": 30, "titleLineHeight": 34, "titlePadding": 34}}}},
  {"data": {"name": "d"}, "mark": {"type": "line", "opacity": 0},
   "encoding": {
    "x": {"field": "f", "type": "quantitative", "axis": {"orient": "top", "values": [0,0.001,0.002,0.003,0.004,0.005,0.006,0.007,0.008,0.009,0.01,0.011,0.012,0.013,0.014,0.015,0.016,0.017,0.018,0.019,0.02], "tickSize": {"condition": {"test": "abs(datum.value*200-round(datum.value*200))<0.001", "value": 26}, "value": 15}, "labels": false, "title": null}},
    "y": {"field": "c", "type": "quantitative", "axis": {"orient": "right", "values": [0,0.1,0.2,0.3,0.4,0.5,0.6,0.7,0.8,0.9,1], "tickSize": {"condition": {"test": "round(datum.value*10)%2==0", "value": 22}, "value": 15}, "labels": false, "title": null}}}},
  {"data": {"name": "lev"}, "transform": [{"filter": "datum.p=='d'"}], "mark": {"type": "rule", "color": "#3a3a3a", "strokeWidth": 2.4, "strokeDash": [15, 9]},
   "encoding": {"y": {"field": "c", "type": "quantitative", "axis": null}}},
  {"data": {"name": "lab"}, "transform": [{"filter": "datum.p=='d'"}], "mark": {"type": "text", "font": "Liberation Sans", "fontWeight": "bold", "fontSize": 35, "align": "left", "baseline": "alphabetic", "dx": 11, "color": "#111"},
   "encoding": {"x": {"datum": 0, "type": "quantitative", "axis": null}, "y": {"datum": 0.894, "type": "quantitative", "axis": null}, "text": {"field": "t"}}}
 ],
 "resolve": {"axis": {"x": "independent", "y": "independent"}}},
{"width": 521, "height": 416,
 "layer": [
  {"data": {"name": "e"}, "mark": {"type": "line", "color": "#151515", "strokeWidth": 2.4, "interpolate": "monotone"},
   "encoding": {
    "x": {"field": "f", "type": "quantitative", "scale": {"domain": [0, 0.02], "nice": false, "zero": false},
          "axis": {"orient": "bottom", "values": [0,0.001,0.002,0.003,0.004,0.005,0.006,0.007,0.008,0.009,0.01,0.011,0.012,0.013,0.014,0.015,0.016,0.017,0.018,0.019,0.02], "tickSize": {"condition": {"test": "abs(datum.value*200-round(datum.value*200))<0.001", "value": 26}, "value": 15}, "labelExpr": "abs(datum.value*200-round(datum.value*200))<0.001 ? format(datum.value,'~g') : ''", "labelPadding": 20, "title": "Frequency (yr⁻¹)", "titleFontSize": 34, "titlePadding": 10}},
    "y": {"field": "c", "type": "quantitative", "scale": {"domain": [0, 1], "nice": false},
          "axis": {"orient": "left", "values": [0,0.1,0.2,0.3,0.4,0.5,0.6,0.7,0.8,0.9,1], "tickSize": {"condition": {"test": "round(datum.value*10)%2==0", "value": 22}, "value": 15}, "labels": false, "title": null}}}},
  {"data": {"name": "e"}, "mark": {"type": "line", "opacity": 0},
   "encoding": {
    "x": {"field": "f", "type": "quantitative", "axis": {"orient": "top", "values": [0,0.001,0.002,0.003,0.004,0.005,0.006,0.007,0.008,0.009,0.01,0.011,0.012,0.013,0.014,0.015,0.016,0.017,0.018,0.019,0.02], "tickSize": {"condition": {"test": "abs(datum.value*200-round(datum.value*200))<0.001", "value": 26}, "value": 15}, "labels": false, "title": null}},
    "y": {"field": "c", "type": "quantitative", "axis": {"orient": "right", "values": [0,0.1,0.2,0.3,0.4,0.5,0.6,0.7,0.8,0.9,1], "tickSize": {"condition": {"test": "round(datum.value*10)%2==0", "value": 22}, "value": 15}, "labels": false, "title": null}}}},
  {"data": {"name": "lev"}, "transform": [{"filter": "datum.p=='e'"}], "mark": {"type": "rule", "color": "#3a3a3a", "strokeWidth": 2.4, "strokeDash": [15, 9]},
   "encoding": {"y": {"field": "c", "type": "quantitative", "axis": null}}},
  {"data": {"name": "lab"}, "transform": [{"filter": "datum.p=='e'"}], "mark": {"type": "text", "font": "Liberation Sans", "fontWeight": "bold", "fontSize": 35, "align": "left", "baseline": "alphabetic", "dx": 11, "color": "#111"},
   "encoding": {"x": {"datum": 0, "type": "quantitative", "axis": null}, "y": {"datum": 0.894, "type": "quantitative", "axis": null}, "text": {"field": "t"}}}
 ],
 "resolve": {"axis": {"x": "independent", "y": "independent"}}},
{"width": 521, "height": 416,
 "layer": [
  {"data": {"name": "f"}, "mark": {"type": "line", "color": "#151515", "strokeWidth": 2.4, "interpolate": "monotone"},
   "encoding": {
    "x": {"field": "f", "type": "quantitative", "scale": {"domain": [0, 0.02], "nice": false, "zero": false},
          "axis": {"orient": "bottom", "values": [0,0.001,0.002,0.003,0.004,0.005,0.006,0.007,0.008,0.009,0.01,0.011,0.012,0.013,0.014,0.015,0.016,0.017,0.018,0.019,0.02], "tickSize": {"condition": {"test": "abs(datum.value*200-round(datum.value*200))<0.001", "value": 26}, "value": 15}, "labelExpr": "abs(datum.value*200-round(datum.value*200))<0.001 ? format(datum.value,'~g') : ''", "labelPadding": 20, "title": "Frequency (yr⁻¹)", "titleFontSize": 34, "titlePadding": 10}},
    "y": {"field": "c", "type": "quantitative", "scale": {"domain": [0, 1], "nice": false},
          "axis": {"orient": "left", "values": [0,0.1,0.2,0.3,0.4,0.5,0.6,0.7,0.8,0.9,1], "tickSize": {"condition": {"test": "round(datum.value*10)%2==0", "value": 22}, "value": 15}, "labels": false, "title": null}}}},
  {"data": {"name": "f"}, "mark": {"type": "line", "opacity": 0},
   "encoding": {
    "x": {"field": "f", "type": "quantitative", "axis": {"orient": "top", "values": [0,0.001,0.002,0.003,0.004,0.005,0.006,0.007,0.008,0.009,0.01,0.011,0.012,0.013,0.014,0.015,0.016,0.017,0.018,0.019,0.02], "tickSize": {"condition": {"test": "abs(datum.value*200-round(datum.value*200))<0.001", "value": 26}, "value": 15}, "labels": false, "title": null}},
    "y": {"field": "c", "type": "quantitative", "axis": {"orient": "right", "values": [0,0.1,0.2,0.3,0.4,0.5,0.6,0.7,0.8,0.9,1], "tickSize": {"condition": {"test": "round(datum.value*10)%2==0", "value": 22}, "value": 15}, "labels": false, "title": null}}}},
  {"data": {"name": "lev"}, "transform": [{"filter": "datum.p=='f'"}], "mark": {"type": "rule", "color": "#3a3a3a", "strokeWidth": 2.4, "strokeDash": [15, 9]},
   "encoding": {"y": {"field": "c", "type": "quantitative", "axis": null}}},
  {"data": {"name": "lab"}, "transform": [{"filter": "datum.p=='f'"}], "mark": {"type": "text", "font": "Liberation Sans", "fontWeight": "bold", "fontSize": 35, "align": "left", "baseline": "alphabetic", "dx": 11, "color": "#111"},
   "encoding": {"x": {"datum": 0, "type": "quantitative", "axis": null}, "y": {"datum": 0.894, "type": "quantitative", "axis": null}, "text": {"field": "t"}}}
 ],
 "resolve": {"axis": {"x": "independent", "y": "independent"}}}
]
}
